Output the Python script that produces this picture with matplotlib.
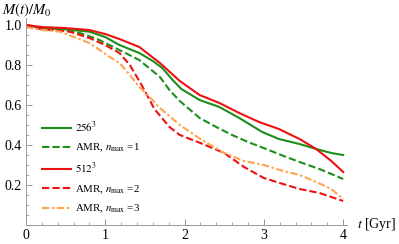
import numpy as np
import matplotlib.pyplot as plt

plt.rcParams['font.family'] = ['Liberation Serif', 'DejaVu Serif']
plt.rcParams['mathtext.fontset'] = 'stix'

# 读图得到的数据
t_256 = [0, 0.2, 0.5, 0.8, 1.0, 1.18, 1.43, 1.6, 1.72, 1.85, 1.96, 2.19, 2.44, 2.69, 2.98, 3.19, 3.45, 3.66, 3.85, 4.0]
m_256 = [1.0, 0.985, 0.978, 0.967, 0.94, 0.90, 0.86, 0.82, 0.785, 0.725, 0.68, 0.625, 0.59, 0.535, 0.465, 0.43, 0.405, 0.38, 0.36, 0.35]

t_amr1 = [0, 0.2, 0.45, 0.68, 0.9, 1.18, 1.43, 1.69, 1.81, 1.94, 2.19, 2.4, 2.6, 2.8, 3.03, 3.25, 3.45, 3.7, 4.0]
m_amr1 = [1.0, 0.98, 0.975, 0.96, 0.93, 0.875, 0.825, 0.74, 0.675, 0.62, 0.535, 0.49, 0.45, 0.415, 0.38, 0.345, 0.315, 0.28, 0.23]

t_512 = [0, 0.2, 0.5, 0.8, 1.0, 1.18, 1.43, 1.69, 1.94, 2.19, 2.44, 2.69, 2.94, 3.19, 3.45, 3.66, 3.85, 4.0]
m_512 = [1.0, 0.99, 0.985, 0.975, 0.955, 0.93, 0.89, 0.81, 0.72, 0.65, 0.61, 0.56, 0.515, 0.48, 0.43, 0.38, 0.32, 0.265]

t_amr2 = [0, 0.2, 0.55, 0.8, 1.0, 1.18, 1.31, 1.43, 1.5, 1.62, 1.81, 1.94, 2.2, 2.5, 2.75, 3.0, 3.2, 3.45, 3.7, 4.0]
m_amr2 = [1.0, 0.98, 0.967, 0.935, 0.9, 0.86, 0.80, 0.72, 0.67, 0.58, 0.49, 0.45, 0.41, 0.36, 0.29, 0.235, 0.21, 0.18, 0.16, 0.12]

t_amr3 = [0, 0.2, 0.43, 0.8, 1.06, 1.18, 1.31, 1.43, 1.56, 1.69, 1.81, 1.94, 2.2, 2.5, 2.75, 3.0, 3.2, 3.45, 3.66, 3.85, 4.0]
m_amr3 = [0.99, 0.975, 0.967, 0.91, 0.84, 0.81, 0.75, 0.69, 0.64, 0.585, 0.545, 0.50, 0.43, 0.36, 0.32, 0.30, 0.275, 0.25, 0.215, 0.18, 0.13]

green = '#1a8f1a'
red = '#ee1111'
orange = '#ffa550'

fig = plt.figure(figsize=(3.99, 2.44), dpi=100)
ax = fig.add_axes([0.065, 0.078, 0.805, 0.848])

ax.plot(t_256, m_256, color=green, lw=1.5, label=r'$256^3$')
ax.plot(t_amr1, m_amr1, color=green, lw=1.5, dashes=(3.5, 1.5), label=r'AMR, $n_{\rm max}$ =1')
ax.plot(t_512, m_512, color=red, lw=1.5, label=r'$512^3$')
ax.plot(t_amr2, m_amr2, color=red, lw=1.5, dashes=(3.5, 1.5), label=r'AMR, $n_{\rm max}$ =2')
ax.plot(t_amr3, m_amr3, color=orange, lw=1.5, dashes=(3.5, 1.2, 1.2, 1.2), label=r'AMR, $n_{\rm max}$ =3')

ax.set_xlim(0, 4.05)
ax.set_ylim(0, 1.035)
ax.set_xticks([0, 1, 2, 3, 4])
ax.set_xticks(np.arange(0, 4.01, 0.2), minor=True)
ax.set_yticks([0.2, 0.4, 0.6, 0.8, 1.0])
ax.set_yticklabels(['0.2', '0.4', '0.6', '0.8', '1.0'])
ax.set_yticks(np.arange(0.05, 1.03, 0.05), minor=True)
ax.tick_params(which='major', direction='in', length=4, width=0.6, color='#888888', labelsize=10, pad=3)
ax.tick_params(which='minor', direction='in', length=2, width=0.5, color='#888888')
ax.spines['top'].set_visible(False)
ax.spines['right'].set_visible(False)
for s in ['left', 'bottom']:
    ax.spines[s].set_color('#999999')
    ax.spines[s].set_linewidth(0.7)

fig.text(0.005, 0.995, r'$M(t)/M_0$', fontsize=10.5, va='top', ha='left')
fig.text(0.895, 0.078, r'$t$ [Gyr]', fontsize=10, va='center', ha='left')

ax.legend(loc='upper left', bbox_to_anchor=(0.035, 0.53), frameon=False, fontsize=7.8,
          handlelength=2.7, labelspacing=0.65, handletextpad=0.35, borderaxespad=0)

plt.savefig('out.png', dpi=100)
